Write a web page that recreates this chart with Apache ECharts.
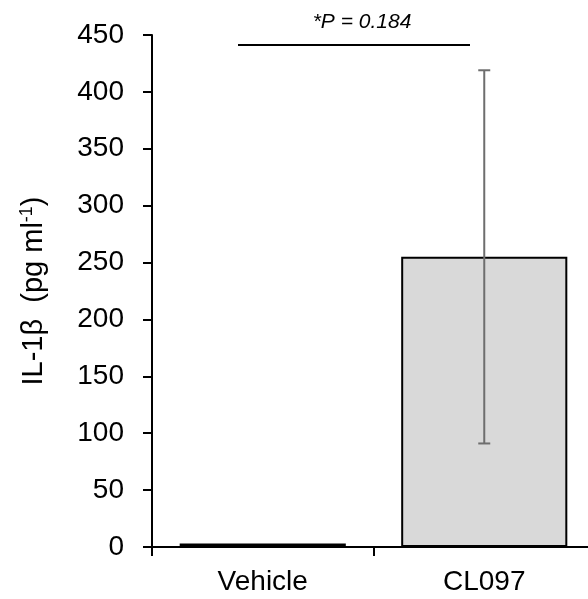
<!DOCTYPE html>
<html>
<head>
<meta charset="utf-8">
<script src="https://cdn.jsdelivr.net/npm/echarts@6/dist/echarts.min.js"></script>
<style>html,body{margin:0;padding:0;background:#fff}#c{width:588px;height:599px}</style>
</head>
<body>
<div id="c"></div>
<script>
var categories = ['Vehicle', 'CL097'];
var means = [3, 255];
var errors = [0, 164];
var yTicks = [0, 50, 100, 150, 200, 250, 300, 350, 400, 450];
var annotationText = '*P = 0.184';

var chart = echarts.init(document.getElementById('c'), null, {renderer: 'canvas'});
var font = 'Liberation Sans, Arial, sans-serif';
var option = {
  animation: false,
  grid: {left: 152, right: -7, top: 35, bottom: 52, containLabel: false, outerBoundsMode: 'none'},
  xAxis: {
    type: 'category',
    data: categories,
    axisLine: {lineStyle: {color: '#000', width: 2}},
    axisTick: {show: true, length: 9, lineStyle: {color: '#000', width: 2}, alignWithLabel: false},
    axisLabel: {color: '#000', fontSize: 28, fontFamily: font, margin: 21}
  },
  yAxis: {
    type: 'value',
    min: yTicks[0],
    max: yTicks[yTicks.length - 1],
    interval: 50,
    splitLine: {show: false},
    axisLine: {show: true, lineStyle: {color: '#000', width: 2}},
    axisTick: {show: true, length: 9, lineStyle: {color: '#000', width: 2}},
    axisLabel: {color: '#000', fontSize: 28, fontFamily: font, margin: 28},
    name: 'IL-1\u03b2  (pg ml{sup|-1})',
    nameLocation: 'middle',
    nameRotate: 90,
    nameGap: 102,
    nameTextStyle: {
      color: '#000', fontSize: 29, fontFamily: font,
      rich: {sup: {fontSize: 18, fontFamily: font, color: '#000', padding: [0, 0, 14, 0]}}
    }
  },
  series: [
    {
      type: 'bar',
      data: means,
      barWidth: '75%',
      itemStyle: {color: '#d9d9d9', borderColor: '#000', borderWidth: 2},
      z: 2
    },
    {
      type: 'custom',
      data: categories.map(function (c, i) { return [i, means[i], errors[i]]; }),
      z: 5,
      renderItem: function (params, api) {
        var i = api.value(0), m = api.value(1), e = api.value(2);
        if (!e) return null;
        var top = api.coord([i, m + e]);
        var bot = api.coord([i, m - e]);
        var hw = 6;
        var st = {stroke: '#6e6e6e', lineWidth: 2};
        return {
          type: 'group',
          children: [
            {type: 'line', shape: {x1: top[0], y1: top[1], x2: bot[0], y2: bot[1]}, style: st},
            {type: 'line', shape: {x1: top[0] - hw, y1: top[1], x2: top[0] + hw, y2: top[1]}, style: st},
            {type: 'line', shape: {x1: bot[0] - hw, y1: bot[1], x2: bot[0] + hw, y2: bot[1]}, style: st}
          ]
        };
      }
    }
  ],
  graphic: [
    {type: 'line', shape: {x1: 238, y1: 45, x2: 470, y2: 45}, style: {stroke: '#000', lineWidth: 2}},
    {type: 'text', x: 362, y: 22, style: {text: annotationText, fontSize: 21, fontStyle: 'italic', fontFamily: font, fill: '#000', align: 'center', verticalAlign: 'middle'}}
  ]
};
chart.setOption(option);
</script>
</body>
</html>
